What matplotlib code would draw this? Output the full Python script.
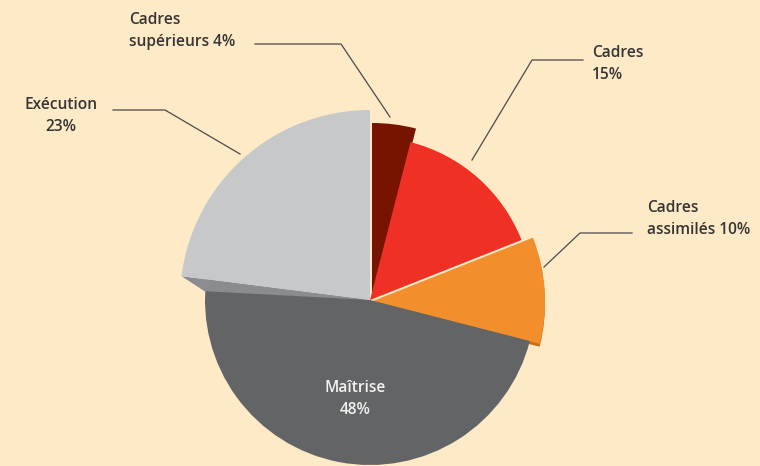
import numpy as np
import matplotlib.pyplot as plt

# categories and shares (%)
categories = ["Cadres\nsupérieurs", "Cadres", "Cadres\nassimilés", "Maîtrise", "Exécution"]
values = [4, 15, 10, 48, 23]
label_texts = ["Cadres\nsupérieurs 4%", "Cadres\n15%", "Cadres\nassimilés 10%", "Maîtrise\n48%", "Exécution\n23%"]

colors = ["#761400", "#EE3124", "#F28E2B", "#636466", "#C7C8CA"]
bg = "#FEEAC6"
txt = "#353535"

W, H = 760, 466
cx, cy = 370, H - 300
radii = [177, 163, 172, 165, 190]
offsets = [(2, 0), (0, 0), (3, -1), (0, 0), (0, 0)]

fig = plt.figure(figsize=(7.6, 4.66), dpi=100)
fig.patch.set_facecolor(bg)
ax = fig.add_axes([0, 0, 1, 1])
ax.set_facecolor(bg)

# orange side face under the slices
sh, _ = ax.pie(values, colors=["none", "none", "#C8701E", "none", "none"],
               startangle=90, counterclock=False, center=(cx + 3, cy - 4), radius=172,
               frame=True)
for w in sh:
    w.set_linewidth(0)

wedges, _ = ax.pie(values, colors=colors, startangle=90, counterclock=False,
                   center=(cx, cy), radius=165, frame=True)
for w, r, (dx, dy) in zip(wedges, radii, offsets):
    w.set_radius(r)
    w.set_center((cx + dx, cy + dy))
    w.set_linewidth(0)
    w.set_zorder(2)
wedges[3].set_zorder(3)
wedges[4].set_zorder(5)

# side face under the Exécution slice
a = np.deg2rad(90 - 360 * sum(values[:4]) / 100)
corner = (cx + radii[4] * np.cos(a), cy + radii[4] * np.sin(a))
ax.fill([cx, corner[0], corner[0] + 23, cx],
        [cy, corner[1], corner[1] - 15, cy],
        color="#8B8C8F", lw=0, zorder=4)

# leader lines: text end -> elbow -> pie
leaders = {
    0: [(255, 44), (341, 44), (390, 117)],
    1: [(583, 60), (532, 60), (472, 160)],
    2: [(632, 233), (580, 233), (544, 267)],
    4: [(113, 110), (165, 110), (240, 154)],
}
for i, pts in leaders.items():
    xs = [p[0] for p in pts]
    ys = [H - p[1] for p in pts]
    ax.plot(xs, ys, color="#4A4A4A", lw=0.9, zorder=6)

font = dict(family="Open Sans", fontsize=11.2, fontweight="semibold", linespacing=1.5)
ax.text(129, H - 31, label_texts[0], ha="left", va="center", color=txt, **font)
ax.text(592, H - 64, label_texts[1], ha="left", va="center", color=txt, **font)
ax.text(647, H - 219, label_texts[2], ha="left", va="center", color=txt, **font)
ax.text(61, H - 116, label_texts[4], ha="center", va="center", color=txt, **font)
ax.text(355, H - 399, label_texts[3], ha="center", va="center", color="#F2F2F2", zorder=7, **font)

ax.set_xlim(0, W)
ax.set_ylim(0, H)
ax.set_aspect("equal")
ax.axis("off")

fig.savefig("out.png", dpi=100, facecolor=bg)
